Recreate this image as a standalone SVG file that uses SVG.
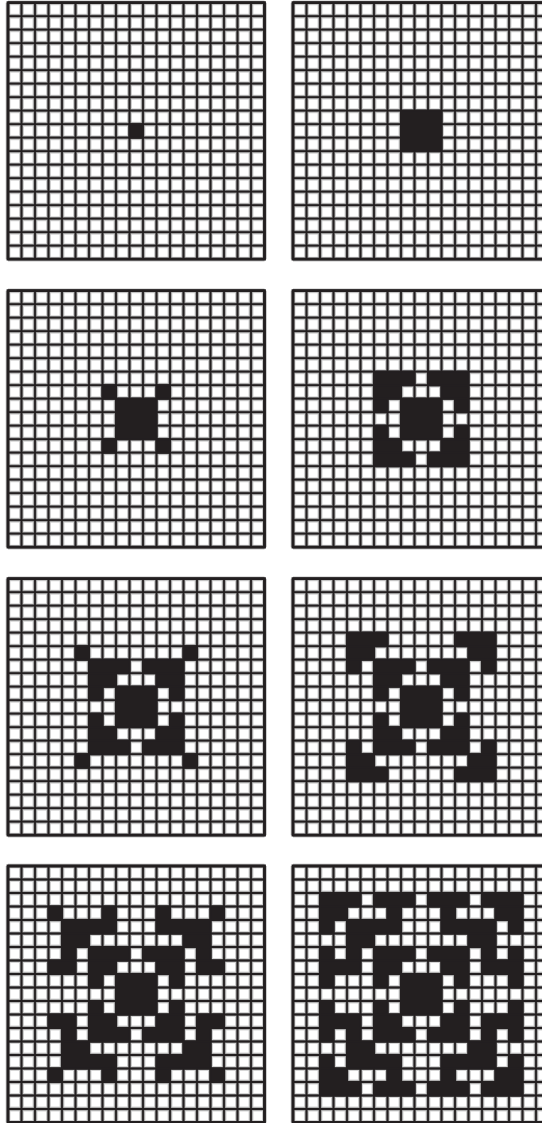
<svg xmlns="http://www.w3.org/2000/svg" width="542" height="1123" viewBox="0 0 542 1123">
<style>
.halo{fill:none;stroke:#d6d6d6;stroke-width:5}
.mid{fill:none;stroke:#8a8a8a;stroke-width:3.2}
.core{fill:none;stroke:#231f20;stroke-width:1.8}
.frame{fill:none;stroke:#231f20;stroke-width:2.8}
.on{fill:#231f20;stroke:#231f20;stroke-width:2}
</style>
<defs>
<path id="lines" vector-effect="non-scaling-stroke" d="M0 0V19M1 0V19M2 0V19M3 0V19M4 0V19M5 0V19M6 0V19M7 0V19M8 0V19M9 0V19M10 0V19M11 0V19M12 0V19M13 0V19M14 0V19M15 0V19M16 0V19M17 0V19M18 0V19M19 0V19M0 0H19M0 1H19M0 2H19M0 3H19M0 4H19M0 5H19M0 6H19M0 7H19M0 8H19M0 9H19M0 10H19M0 11H19M0 12H19M0 13H19M0 14H19M0 15H19M0 16H19M0 17H19M0 18H19M0 19H19"/>
<rect id="border" x="0" y="0" width="19" height="19" vector-effect="non-scaling-stroke"/>
<g id="grid">
<use href="#lines" class="halo"/>
<use href="#lines" class="mid"/>
<use href="#lines" class="core"/>
</g>
</defs>
<rect width="542" height="1123" fill="#ffffff"/>

<g id="panel-1" transform="translate(8,2.7) scale(13.5)">
<use href="#grid"/>
<path class="on" vector-effect="non-scaling-stroke" d="M9 9h1v1h-1z"/>
<use href="#border" class="frame"/>
</g>

<g id="panel-2" transform="translate(293,2.7) scale(13.5)">
<use href="#grid"/>
<path class="on" vector-effect="non-scaling-stroke" d="M8 8h3v3h-3z"/>
<use href="#border" class="frame"/>
</g>

<g id="panel-3" transform="translate(8,290.7) scale(13.5)">
<use href="#grid"/>
<path class="on" vector-effect="non-scaling-stroke" d="M8 8h3v3h-3zM7 7h1v1h-1zM11 7h1v1h-1zM7 11h1v1h-1zM11 11h1v1h-1z"/>
<use href="#border" class="frame"/>
</g>

<g id="panel-4" transform="translate(293,290.7) scale(13.5)">
<use href="#grid"/>
<path class="on" vector-effect="non-scaling-stroke" d="M6 6h3v1h-3zM10 6h3v1h-3zM6 7h2v1h-2zM11 7h2v1h-2zM6 8h1v1h-1zM8 8h3v3h-3zM12 8h1v1h-1zM6 10h1v1h-1zM12 10h1v1h-1zM6 11h2v1h-2zM11 11h2v1h-2zM6 12h3v1h-3zM10 12h3v1h-3z"/>
<use href="#border" class="frame"/>
</g>

<g id="panel-5" transform="translate(8,578.7) scale(13.5)">
<use href="#grid"/>
<path class="on" vector-effect="non-scaling-stroke" d="M5 5h1v1h-1zM13 5h1v1h-1zM5 13h1v1h-1zM13 13h1v1h-1zM6 6h3v1h-3zM10 6h3v1h-3zM6 7h2v1h-2zM11 7h2v1h-2zM6 8h1v1h-1zM8 8h3v3h-3zM12 8h1v1h-1zM6 10h1v1h-1zM12 10h1v1h-1zM6 11h2v1h-2zM11 11h2v1h-2zM6 12h3v1h-3zM10 12h3v1h-3z"/>
<use href="#border" class="frame"/>
</g>

<g id="panel-6" transform="translate(293,578.7) scale(13.5)">
<use href="#grid"/>
<path class="on" vector-effect="non-scaling-stroke" d="M4 4h3v1h-3zM12 4h3v1h-3zM4 5h2v1h-2zM13 5h2v1h-2zM4 6h1v1h-1zM6 6h3v1h-3zM10 6h3v1h-3zM14 6h1v1h-1zM6 7h2v1h-2zM11 7h2v1h-2zM6 8h1v1h-1zM8 8h3v3h-3zM12 8h1v1h-1zM6 10h1v1h-1zM12 10h1v1h-1zM6 11h2v1h-2zM11 11h2v1h-2zM4 12h1v1h-1zM6 12h3v1h-3zM10 12h3v1h-3zM14 12h1v1h-1zM4 13h2v1h-2zM13 13h2v1h-2zM4 14h3v1h-3zM12 14h3v1h-3z"/>
<use href="#border" class="frame"/>
</g>

<g id="panel-7" transform="translate(8,866) scale(13.5)">
<use href="#grid"/>
<path class="on" vector-effect="non-scaling-stroke" d="M3 3h1v1h-1zM7 3h1v1h-1zM11 3h1v1h-1zM15 3h1v1h-1zM4 4h4v1h-4zM11 4h4v1h-4zM4 5h2v1h-2zM13 5h2v1h-2zM4 6h1v1h-1zM6 6h3v1h-3zM10 6h3v1h-3zM14 6h1v1h-1zM3 7h2v1h-2zM6 7h2v1h-2zM11 7h2v1h-2zM14 7h2v1h-2zM6 8h1v1h-1zM8 8h3v3h-3zM12 8h1v1h-1zM6 10h1v1h-1zM12 10h1v1h-1zM3 11h2v1h-2zM6 11h2v1h-2zM11 11h2v1h-2zM14 11h2v1h-2zM4 12h1v1h-1zM6 12h3v1h-3zM10 12h3v1h-3zM14 12h1v1h-1zM4 13h2v1h-2zM13 13h2v1h-2zM4 14h4v1h-4zM11 14h4v1h-4zM3 15h1v1h-1zM7 15h1v1h-1zM11 15h1v1h-1zM15 15h1v1h-1z"/>
<use href="#border" class="frame"/>
</g>

<g id="panel-8" transform="translate(293,866) scale(13.5)">
<use href="#grid"/>
<path class="on" vector-effect="non-scaling-stroke" d="M2 2h3v1h-3zM6 2h3v1h-3zM10 2h3v1h-3zM14 2h3v1h-3zM2 3h2v1h-2zM7 3h1v1h-1zM11 3h1v1h-1zM15 3h2v1h-2zM2 4h1v1h-1zM4 4h4v1h-4zM11 4h4v1h-4zM16 4h1v1h-1zM4 5h2v1h-2zM13 5h2v1h-2zM2 6h1v1h-1zM4 6h1v1h-1zM6 6h3v1h-3zM10 6h3v1h-3zM14 6h1v1h-1zM16 6h1v1h-1zM2 7h3v1h-3zM6 7h2v1h-2zM11 7h2v1h-2zM14 7h3v1h-3zM2 8h1v1h-1zM6 8h1v1h-1zM8 8h3v3h-3zM12 8h1v1h-1zM16 8h1v1h-1zM2 10h1v1h-1zM6 10h1v1h-1zM12 10h1v1h-1zM16 10h1v1h-1zM2 11h3v1h-3zM6 11h2v1h-2zM11 11h2v1h-2zM14 11h3v1h-3zM2 12h1v1h-1zM4 12h1v1h-1zM6 12h3v1h-3zM10 12h3v1h-3zM14 12h1v1h-1zM16 12h1v1h-1zM4 13h2v1h-2zM13 13h2v1h-2zM2 14h1v1h-1zM4 14h4v1h-4zM11 14h4v1h-4zM16 14h1v1h-1zM2 15h2v1h-2zM7 15h1v1h-1zM11 15h1v1h-1zM15 15h2v1h-2zM2 16h3v1h-3zM6 16h3v1h-3zM10 16h3v1h-3zM14 16h3v1h-3z"/>
<use href="#border" class="frame"/>
</g>
</svg>
